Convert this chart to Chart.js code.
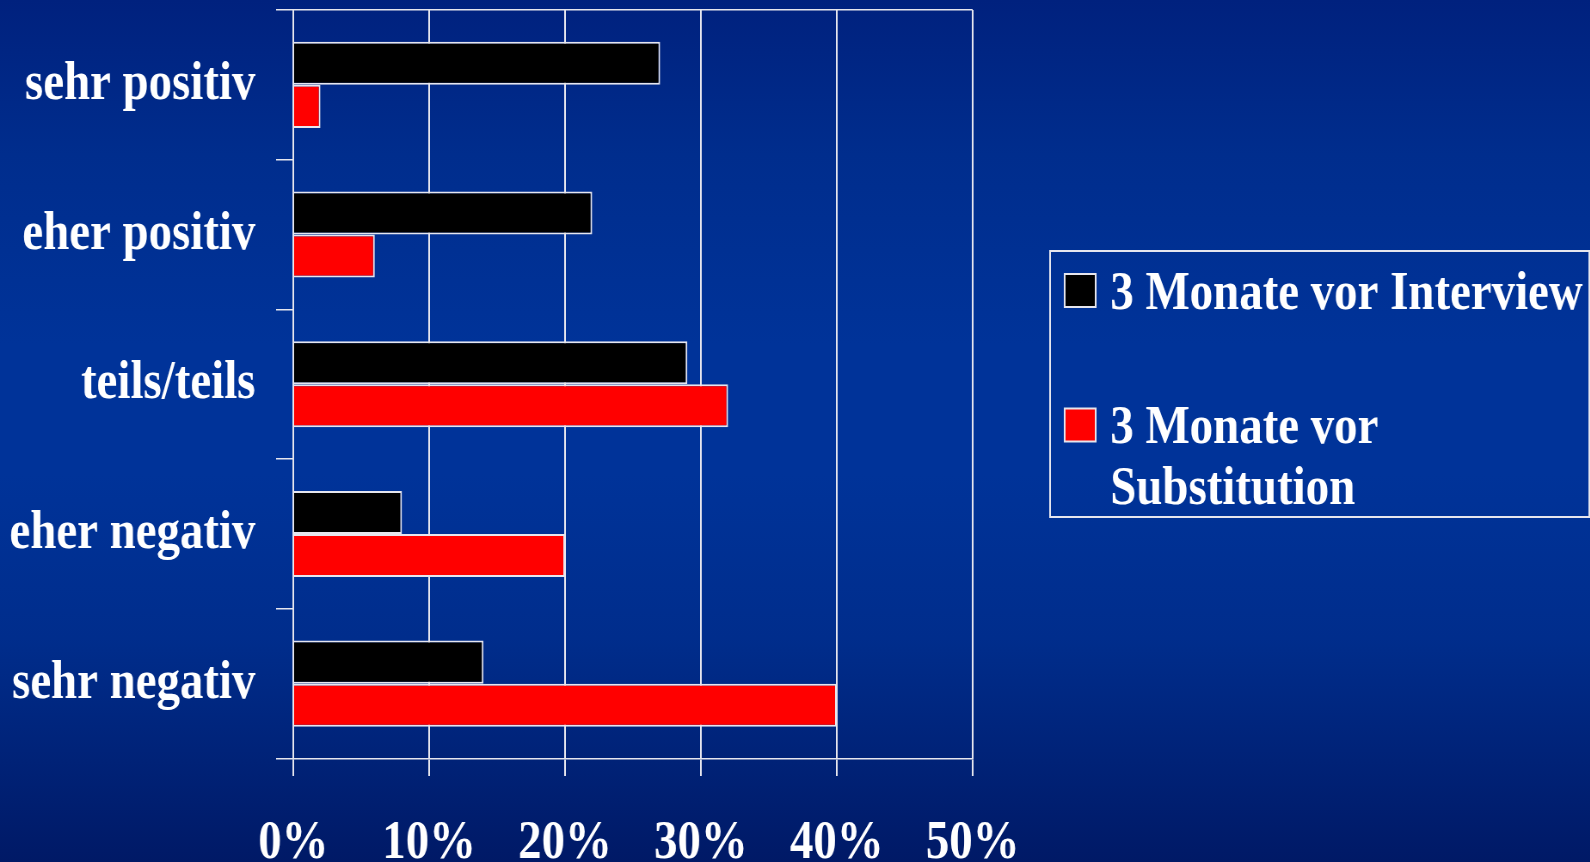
<!DOCTYPE html>
<html lang="de">
<head>
<meta charset="utf-8">
<title>Einschätzung</title>
<script src="https://cdn.jsdelivr.net/npm/chart.js@4/dist/chart.umd.min.js"></script>
<style>
  html, body {
    margin: 0;
    padding: 0;
    width: 1590px;
    height: 862px;
    overflow: hidden;
    background: linear-gradient(to bottom,
      #00217e 0%, #002d8d 18%, #003399 40%, #003399 55%, #002d8c 74%, #001966 100%);
  }
  /* the serif lettering is tall and narrow, so the chart is laid out
     wider and squeezed horizontally */
  #wrap {
    position: absolute;
    left: 0;
    top: 0;
    width: 1849px;
    height: 862px;
    transform: scaleX(0.86);
    transform-origin: 0 0;
  }
</style>
</head>
<body>
<div id="wrap"><canvas id="chart"></canvas></div>
<script>
// Answer categories (top to bottom)
const categories = ['sehr positiv', 'eher positiv', 'teils/teils', 'eher negativ', 'sehr negativ'];

// Series names
const seriesNames = ['3 Monate vor Interview', '3 Monate vor Substitution'];

// Shares in percent
const interviewValues = [27, 22, 29, 8, 14];
const substitutionValues = [2, 6, 32, 20, 40];

// Value axis ticks
const tickValues = [0, 10, 20, 30, 40, 50];
const tickLabels = ['0%', '10%', '20%', '30%', '40%', '50%'];

const FONT_FAMILY = "'Liberation Serif', 'Times New Roman', serif";
const LINE = '#e6e6ee';
const FONT = { family: FONT_FAMILY, size: 54.5, weight: 'bold', lineHeight: 1.2 };

// Boxed legend to the right of the plot, with word wrapping
const boxLegend = {
  id: 'boxLegend',
  afterDraw(chart) {
    const ctx = chart.ctx;
    const box = { left: 1221, top: 251, right: 1848, bottom: 517 };
    const textX = 1291;
    const maxWidth = 580;
    const itemCenters = [290.5, 425];
    const textShift = 4;
    const lineStep = 61;

    ctx.save();
    ctx.strokeStyle = LINE;
    ctx.lineWidth = 2;
    ctx.strokeRect(box.left, box.top, box.right - box.left, box.bottom - box.top);

    ctx.font = `bold ${FONT.size}px ${FONT_FAMILY}`;
    ctx.textBaseline = 'middle';
    ctx.textAlign = 'left';

    chart.data.datasets.forEach((ds, i) => {
      const y = itemCenters[i];
      // swatch
      ctx.fillStyle = ds.backgroundColor;
      ctx.fillRect(1238, y - 16.5, 36, 33);
      ctx.strokeStyle = LINE;
      ctx.lineWidth = 2;
      ctx.strokeRect(1238, y - 16.5, 36, 33);

      // wrap label into lines
      const words = ds.label.split(' ');
      const lines = [];
      let cur = '';
      words.forEach(w => {
        const test = cur ? cur + ' ' + w : w;
        if (ctx.measureText(test).width > maxWidth && cur) {
          lines.push(cur);
          cur = w;
        } else {
          cur = test;
        }
      });
      if (cur) lines.push(cur);

      ctx.fillStyle = '#ffffff';
      lines.forEach((ln, k) => ctx.fillText(ln, textX, y + textShift + k * lineStep));
    });
    ctx.restore();
  }
};

const lastBoundary = categories.length;

new Chart(document.getElementById('chart'), {
  type: 'bar',
  data: {
    labels: categories,
    datasets: [
      {
        label: seriesNames[0],
        data: interviewValues,
        backgroundColor: '#000000',
        borderColor: LINE,
        borderWidth: 2,
        categoryPercentage: 0.575,
        barPercentage: 1.0
      },
      {
        label: seriesNames[1],
        data: substitutionValues,
        backgroundColor: '#ff0000',
        borderColor: LINE,
        borderWidth: 2,
        categoryPercentage: 0.575,
        barPercentage: 1.0
      }
    ]
  },
  options: {
    indexAxis: 'y',
    responsive: true,
    maintainAspectRatio: false,
    animation: false,
    layout: { padding: { top: 10, right: 718, bottom: 0, left: 0 } },
    plugins: {
      legend: { display: false },
      tooltip: { enabled: false }
    },
    scales: {
      x: {
        position: 'bottom',
        min: tickValues[0],
        max: tickValues[tickValues.length - 1],
        afterBuildTicks(scale) {
          scale.ticks = tickValues.map(v => ({ value: v }));
        },
        afterFit(scale) {
          scale.height = 103.5;
          scale.paddingLeft = 0;
          scale.paddingRight = 0;
        },
        ticks: {
          color: '#ffffff',
          font: FONT,
          padding: 35,
          maxRotation: 0,
          autoSkip: false,
          callback: (v, i) => tickLabels[i]
        },
        grid: {
          color: LINE,
          lineWidth: 2,
          tickLength: 17.5,
          tickColor: LINE,
          drawOnChartArea: true
        },
        border: { display: true, color: LINE, width: 1.5 }
      },
      y: {
        position: 'left',
        afterFit(scale) {
          scale.width = 341;
          scale.paddingTop = 0;
          scale.paddingBottom = 0;
        },
        ticks: {
          color: '#ffffff',
          font: FONT,
          padding: 24,
          autoSkip: false
        },
        grid: {
          offset: true,
          lineWidth: 1.5,
          tickLength: 20,
          tickColor: LINE,
          // only the outer frame lines run across the plot
          color: (c) => (c.index === 0 || c.index === lastBoundary) ? LINE : 'rgba(0,0,0,0)'
        },
        border: { display: true, color: LINE, width: 2 }
      }
    }
  },
  plugins: [boxLegend]
});
</script>
</body>
</html>
